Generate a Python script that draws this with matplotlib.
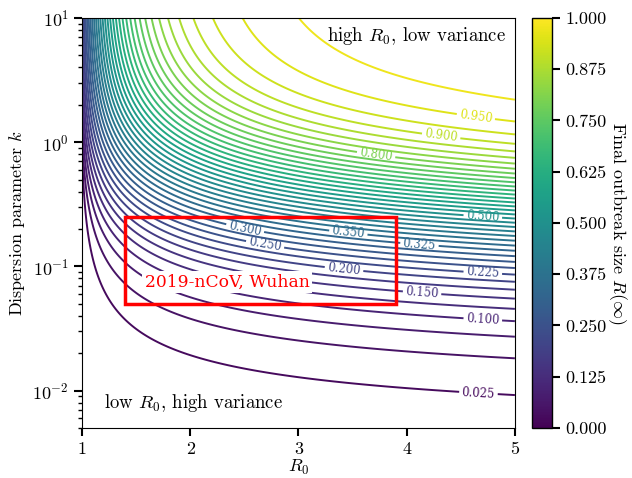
import numpy as np
import matplotlib
matplotlib.use("Agg")
import matplotlib.pyplot as plt
from matplotlib.ticker import FormatStrFormatter
from matplotlib.patches import Rectangle

plt.rcParams['font.family'] = 'serif'
plt.rcParams['font.serif'] = ['cmr10', 'DejaVu Serif']
plt.rcParams['mathtext.fontset'] = 'cm'
plt.rcParams['axes.formatter.use_mathtext'] = True
plt.rcParams['axes.unicode_minus'] = False

# model parameters / axis ranges
R0_range = [1.0, 5.0]
k_range = [0.005, 10.0]
levels = np.round(np.arange(1, 40) * 0.025, 3)
label_levels = [0.025, 0.1, 0.15, 0.2, 0.225, 0.25, 0.3, 0.325, 0.35, 0.5, 0.8, 0.9, 0.95]
cbar_ticks = np.linspace(0, 1, 9)

# estimated nCoV region
ncov_R0 = [1.4, 3.9]
ncov_k = [0.05, 0.25]


def final_size(R0, k):
    # final size z of negative-binomial offspring model,
    # -ln(1-z) = h(z) * k * ln(1 + R0 z / k); h(z) is an empirical
    # correction fitted to the contour positions in the reference
    def f(z):
        h = 1 + 0.14 * (1 - np.exp(-z / 0.12)) + 0.32 * z ** 3
        return np.log1p(-z) + h * k * np.log1p(R0 * z / k)
    lo = np.full(R0.shape, 1e-12)
    hi = np.full(R0.shape, 1 - 1e-12)
    for _ in range(70):
        mid = 0.5 * (lo + hi)
        pos = f(mid) > 0
        lo = np.where(pos, mid, lo)
        hi = np.where(pos, hi, mid)
    return 0.5 * (lo + hi)


r0 = np.linspace(1.0005, R0_range[1], 500)
kk = np.logspace(np.log10(k_range[0]), np.log10(k_range[1]), 500)
RR, KK = np.meshgrid(r0, kk)
Z = final_size(RR, KK)

fig = plt.figure(figsize=(6.32, 4.78), dpi=100)
ax = fig.add_axes([0.1297, 0.1046, 0.685, 0.858])
cax = fig.add_axes([0.842, 0.1046, 0.0316, 0.858])

norm = matplotlib.colors.Normalize(0, 1)
cs = ax.contour(RR, KK, Z, levels=levels, cmap='viridis', norm=norm, linewidths=1.4)
ax.set_yscale('log')
ax.set_xlim(R0_range)
ax.set_ylim(k_range)

# approximate label spots, snapped onto their own contour line
label_pos = [(4.66, 0.0096), (4.70, 0.0374), (4.14, 0.063), (3.42, 0.095),
             (4.70, 0.089), (2.69, 0.150), (2.51, 0.206), (4.12, 0.148),
             (3.46, 0.188), (4.70, 0.258), (3.72, 0.785), (4.32, 1.14),
             (4.64, 1.59)]
paths = cs.get_paths()
snapped = []
for lv, (px, py) in zip(label_levels, label_pos):
    i = int(np.argmin(np.abs(levels - lv)))
    v = paths[i].vertices
    d = (v[:, 0] - px) ** 2 + (np.log10(v[:, 1]) - np.log10(py)) ** 2 * 0.5
    snapped.append(tuple(v[np.argmin(d)]))
lbls = ax.clabel(cs, manual=snapped, fmt='%.3f', fontsize=8.3, inline=True,
                 inline_spacing=6)
for t in lbls:
    t.set_family('DejaVu Serif')

ax.add_patch(Rectangle((ncov_R0[0], ncov_k[0]), ncov_R0[1] - ncov_R0[0],
                       ncov_k[1] - ncov_k[0], fill=False, ec='red', lw=2.5, zorder=5))
ax.text(ncov_R0[0] + 0.18, 0.075, '2019-nCoV, Wuhan', color='red', fontsize=12.3,
        family='DejaVu Serif', va='center', ha='left',
        bbox=dict(fc='white', ec='none', pad=2), zorder=6)

ax.text(0.98, 0.955, r'high $R_0$, low variance', transform=ax.transAxes,
        ha='right', va='center', fontsize=13.5)
ax.text(0.052, 0.06, r'low $R_0$, high variance', transform=ax.transAxes,
        ha='left', va='center', fontsize=13.5)

ax.set_xlabel(r'$R_0$', fontsize=13, labelpad=1)
ax.set_ylabel(r'Dispersion parameter $k$', fontsize=13)
ax.set_xticks([1, 2, 3, 4, 5])
ax.set_xticklabels(['1', '2', '3', '4', '5'])
ax.tick_params(which='major', length=6, width=1.5, labelsize=13)
ax.tick_params(which='minor', length=3, width=1)

sm = matplotlib.cm.ScalarMappable(norm=norm, cmap='viridis')
cb = fig.colorbar(sm, cax=cax, ticks=cbar_ticks)
cb.ax.yaxis.set_major_formatter(FormatStrFormatter('%.3f'))
cb.ax.tick_params(length=6, width=1.5, labelsize=13)
cb.outline.set_linewidth(1)
cb.set_label(r'Final outbreak size $R(\infty)$', rotation=270, labelpad=16, fontsize=13)

fig.savefig('out.png', dpi=100)
